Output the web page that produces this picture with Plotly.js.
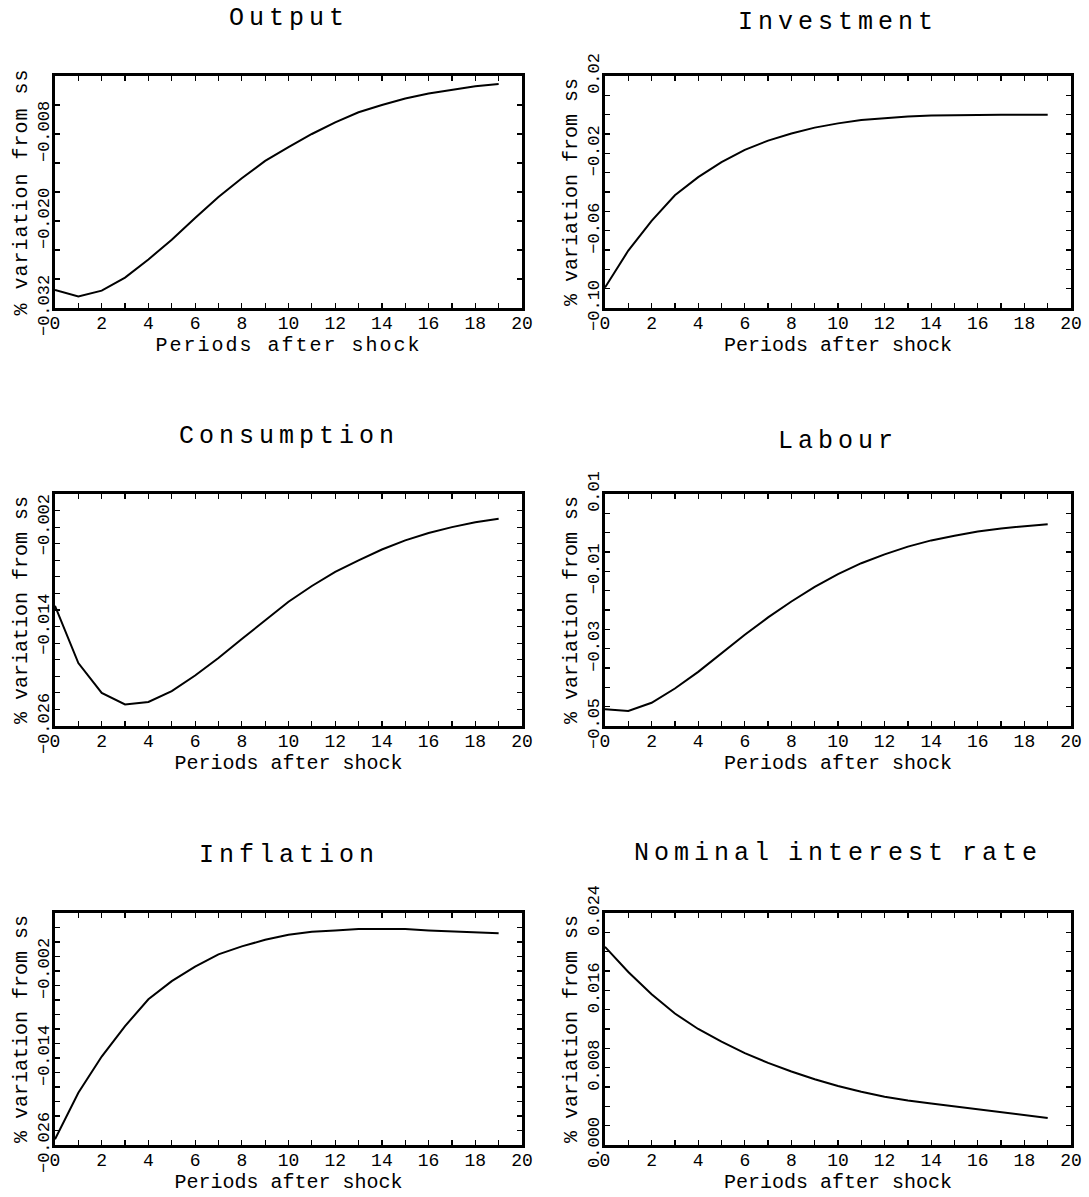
<!DOCTYPE html>
<html>
<head>
<meta charset="utf-8">
<script src="https://cdn.plot.ly/plotly-3.0.1.min.js"></script>
<style>
body { margin: 0; background: #ffffff; }
#chart { width: 1089px; height: 1197px; }
.annotation-text { letter-spacing: 5px; word-spacing: -6px; }
.xtitle { letter-spacing: 2px; }
.ytitle { letter-spacing: 1px; }
</style>
</head>
<body>
<div id="chart"></div>
<script>
// ---------- data ----------
const periods = [0,1,2,3,4,5,6,7,8,9,10,11,12,13,14,15,16,17,18,19];

const outputVals = [-0.0295,-0.0304,-0.0296,-0.0278,-0.0253,-0.0226,-0.0196,-0.0167,-0.0141,-0.0117,
                    -0.0098,-0.0080,-0.0064,-0.0050,-0.0040,-0.0031,-0.0024,-0.0019,-0.0014,-0.0011];
const investmentVals = [-0.0894,-0.0703,-0.0549,-0.0417,-0.0323,-0.0246,-0.0182,-0.0134,-0.0097,-0.0067,
                        -0.0045,-0.0028,-0.0018,-0.0009,-0.0004,-0.0002,-0.0001,-0.0001,-0.0001,-0.0001];
const consumptionVals = [-0.0115,-0.0184,-0.0220,-0.0234,-0.0231,-0.0218,-0.0199,-0.0178,-0.0155,-0.0132,
                         -0.0110,-0.0091,-0.0074,-0.0060,-0.0047,-0.0036,-0.0027,-0.0020,-0.0014,-0.0010];
const labourVals = [-0.0457,-0.0461,-0.0440,-0.0403,-0.0360,-0.0312,-0.0264,-0.0219,-0.0178,-0.0140,
                    -0.0107,-0.0079,-0.0056,-0.0036,-0.0020,-0.0008,0.0003,0.0011,0.0017,0.0022];
const inflationVals = [-0.0252,-0.0188,-0.0138,-0.0096,-0.0059,-0.0034,-0.0014,0.0003,0.0014,0.0023,
                       0.0030,0.0034,0.0036,0.0038,0.0038,0.0038,0.0036,0.0035,0.0033,0.0032];
const nominalRateVals = [0.0205,0.0179,0.0156,0.0136,0.0120,0.0107,0.0095,0.0085,0.0076,0.0068,
                         0.0061,0.0055,0.0050,0.0046,0.0043,0.0040,0.0037,0.0034,0.0031,0.0028];

const panelTitles = ["Output","Investment","Consumption","Labour","Inflation","Nominal interest rate"];

// x ticks
const xTickVals = [0,2,4,6,8,10,12,14,16,18,20];
const xTickText = ["0","2","4","6","8","10","12","14","16","18","20"];

// y ticks (labelled values) for each panel
const outputTickVals = [-0.032,-0.020,-0.008];
const outputTickText = ["\u22120.032","\u22120.020","\u22120.008"];
const investmentTickVals = [-0.10,-0.06,-0.02,0.02];
const investmentTickText = ["\u22120.10","\u22120.06","\u22120.02","0.02"];
const consumptionTickVals = [-0.026,-0.014,-0.002];
const consumptionTickText = ["\u22120.026","\u22120.014","\u22120.002"];
const labourTickVals = [-0.05,-0.03,-0.01,0.01];
const labourTickText = ["\u22120.05","\u22120.03","\u22120.01","0.01"];
const inflationTickVals = [-0.026,-0.014,-0.002];
const inflationTickText = ["\u22120.026","\u22120.014","\u22120.002"];
const nominalTickVals = [0.000,0.008,0.016,0.024];
const nominalTickText = ["0.000","0.008","0.016","0.024"];

// ---------- layout helpers ----------
const W = 1089, H = 1197;
const FONT = "Liberation Mono, Courier New, monospace";
const colX = [[55, 522], [605, 1071]];
const rowY = [[76, 308], [494, 726], [913, 1145]];
const titleY = [[18, 22], [436, 441], [855, 853]];

const panels = [
  {vals: outputVals,      range: [-0.032, 0.0],   minor: 0.004, tv: outputTickVals,      tt: outputTickText},
  {vals: investmentVals,  range: [-0.10, 0.02],   minor: 0.01,  tv: investmentTickVals,  tt: investmentTickText},
  {vals: consumptionVals, range: [-0.026, 0.002], minor: 0.002, tv: consumptionTickVals, tt: consumptionTickText},
  {vals: labourVals,      range: [-0.05, 0.01],   minor: 0.005, tv: labourTickVals,      tt: labourTickText},
  {vals: inflationVals,   range: [-0.026, 0.006], minor: 0.002, tv: inflationTickVals,   tt: inflationTickText},
  {vals: nominalRateVals, range: [0.0, 0.024],    minor: 0.002, tv: nominalTickVals,     tt: nominalTickText}
];

const data = [];
const layout = {
  width: W, height: H,
  margin: {l: 0, r: 0, t: 0, b: 0},
  paper_bgcolor: "#ffffff",
  plot_bgcolor: "#ffffff",
  showlegend: false,
  font: {family: FONT, color: "#000000", size: 16},
  annotations: []
};

panels.forEach((p, i) => {
  const r = Math.floor(i / 2), c = i % 2;
  const n = i + 1;
  const xa = "xaxis" + (n === 1 ? "" : n);
  const ya = "yaxis" + (n === 1 ? "" : n);
  data.push({
    type: "scatter", mode: "lines",
    x: periods, y: p.vals,
    xaxis: "x" + (n === 1 ? "" : n), yaxis: "y" + (n === 1 ? "" : n),
    line: {color: "#000000", width: 2},
    hoverinfo: "x+y"
  });
  layout[xa] = {
    domain: [colX[c][0] / W, colX[c][1] / W],
    anchor: "y" + (n === 1 ? "" : n),
    range: [0, 20],
    tickmode: "array", tickvals: xTickVals, ticktext: xTickText,
    ticks: "inside", ticklen: 5, tickwidth: 1.2, tickcolor: "#000000",
    ticklabelstandoff: -4,
    minor: {tick0: 0, dtick: 1, ticks: "inside", ticklen: 5, tickwidth: 1.2, tickcolor: "#000000", showgrid: false},
    showline: true, linewidth: 3, linecolor: "#000000", mirror: "allticks",
    showgrid: false, zeroline: false,
    tickfont: {family: FONT, size: 18, color: "#000000"},
    title: {text: "Periods after shock", font: {family: FONT, size: 20, color: "#000000"}, standoff: 2}
  };
  layout[ya] = {
    domain: [1 - rowY[r][1] / H, 1 - rowY[r][0] / H],
    anchor: "x" + (n === 1 ? "" : n),
    range: p.range,
    tickmode: "array", tickvals: p.tv, ticktext: p.tt,
    tickangle: -90,
    ticks: "inside", ticklen: 5, tickwidth: 1.2, tickcolor: "#000000",
    ticklabelstandoff: -4,
    minor: {tick0: p.range[0], dtick: p.minor, ticks: "inside", ticklen: 5, tickwidth: 1.2, tickcolor: "#000000", showgrid: false},
    showline: true, linewidth: 3, linecolor: "#000000", mirror: "allticks",
    showgrid: false, zeroline: false,
    tickfont: {family: FONT, size: 17, color: "#000000"},
    title: {text: "% variation from ss", font: {family: FONT, size: 20, color: "#000000"}, standoff: 3}
  };
  layout.annotations.push({
    xref: "paper", yref: "paper",
    x: (colX[c][0] + colX[c][1]) / 2 / W,
    y: 1 - titleY[r][c] / H,
    xanchor: "center", yanchor: "middle",
    text: panelTitles[i], showarrow: false,
    font: {family: FONT, size: 25, color: "#000000"}
  });
});

Plotly.newPlot("chart", data, layout, {displayModeBar: false, staticPlot: true});
</script>
</body>
</html>
